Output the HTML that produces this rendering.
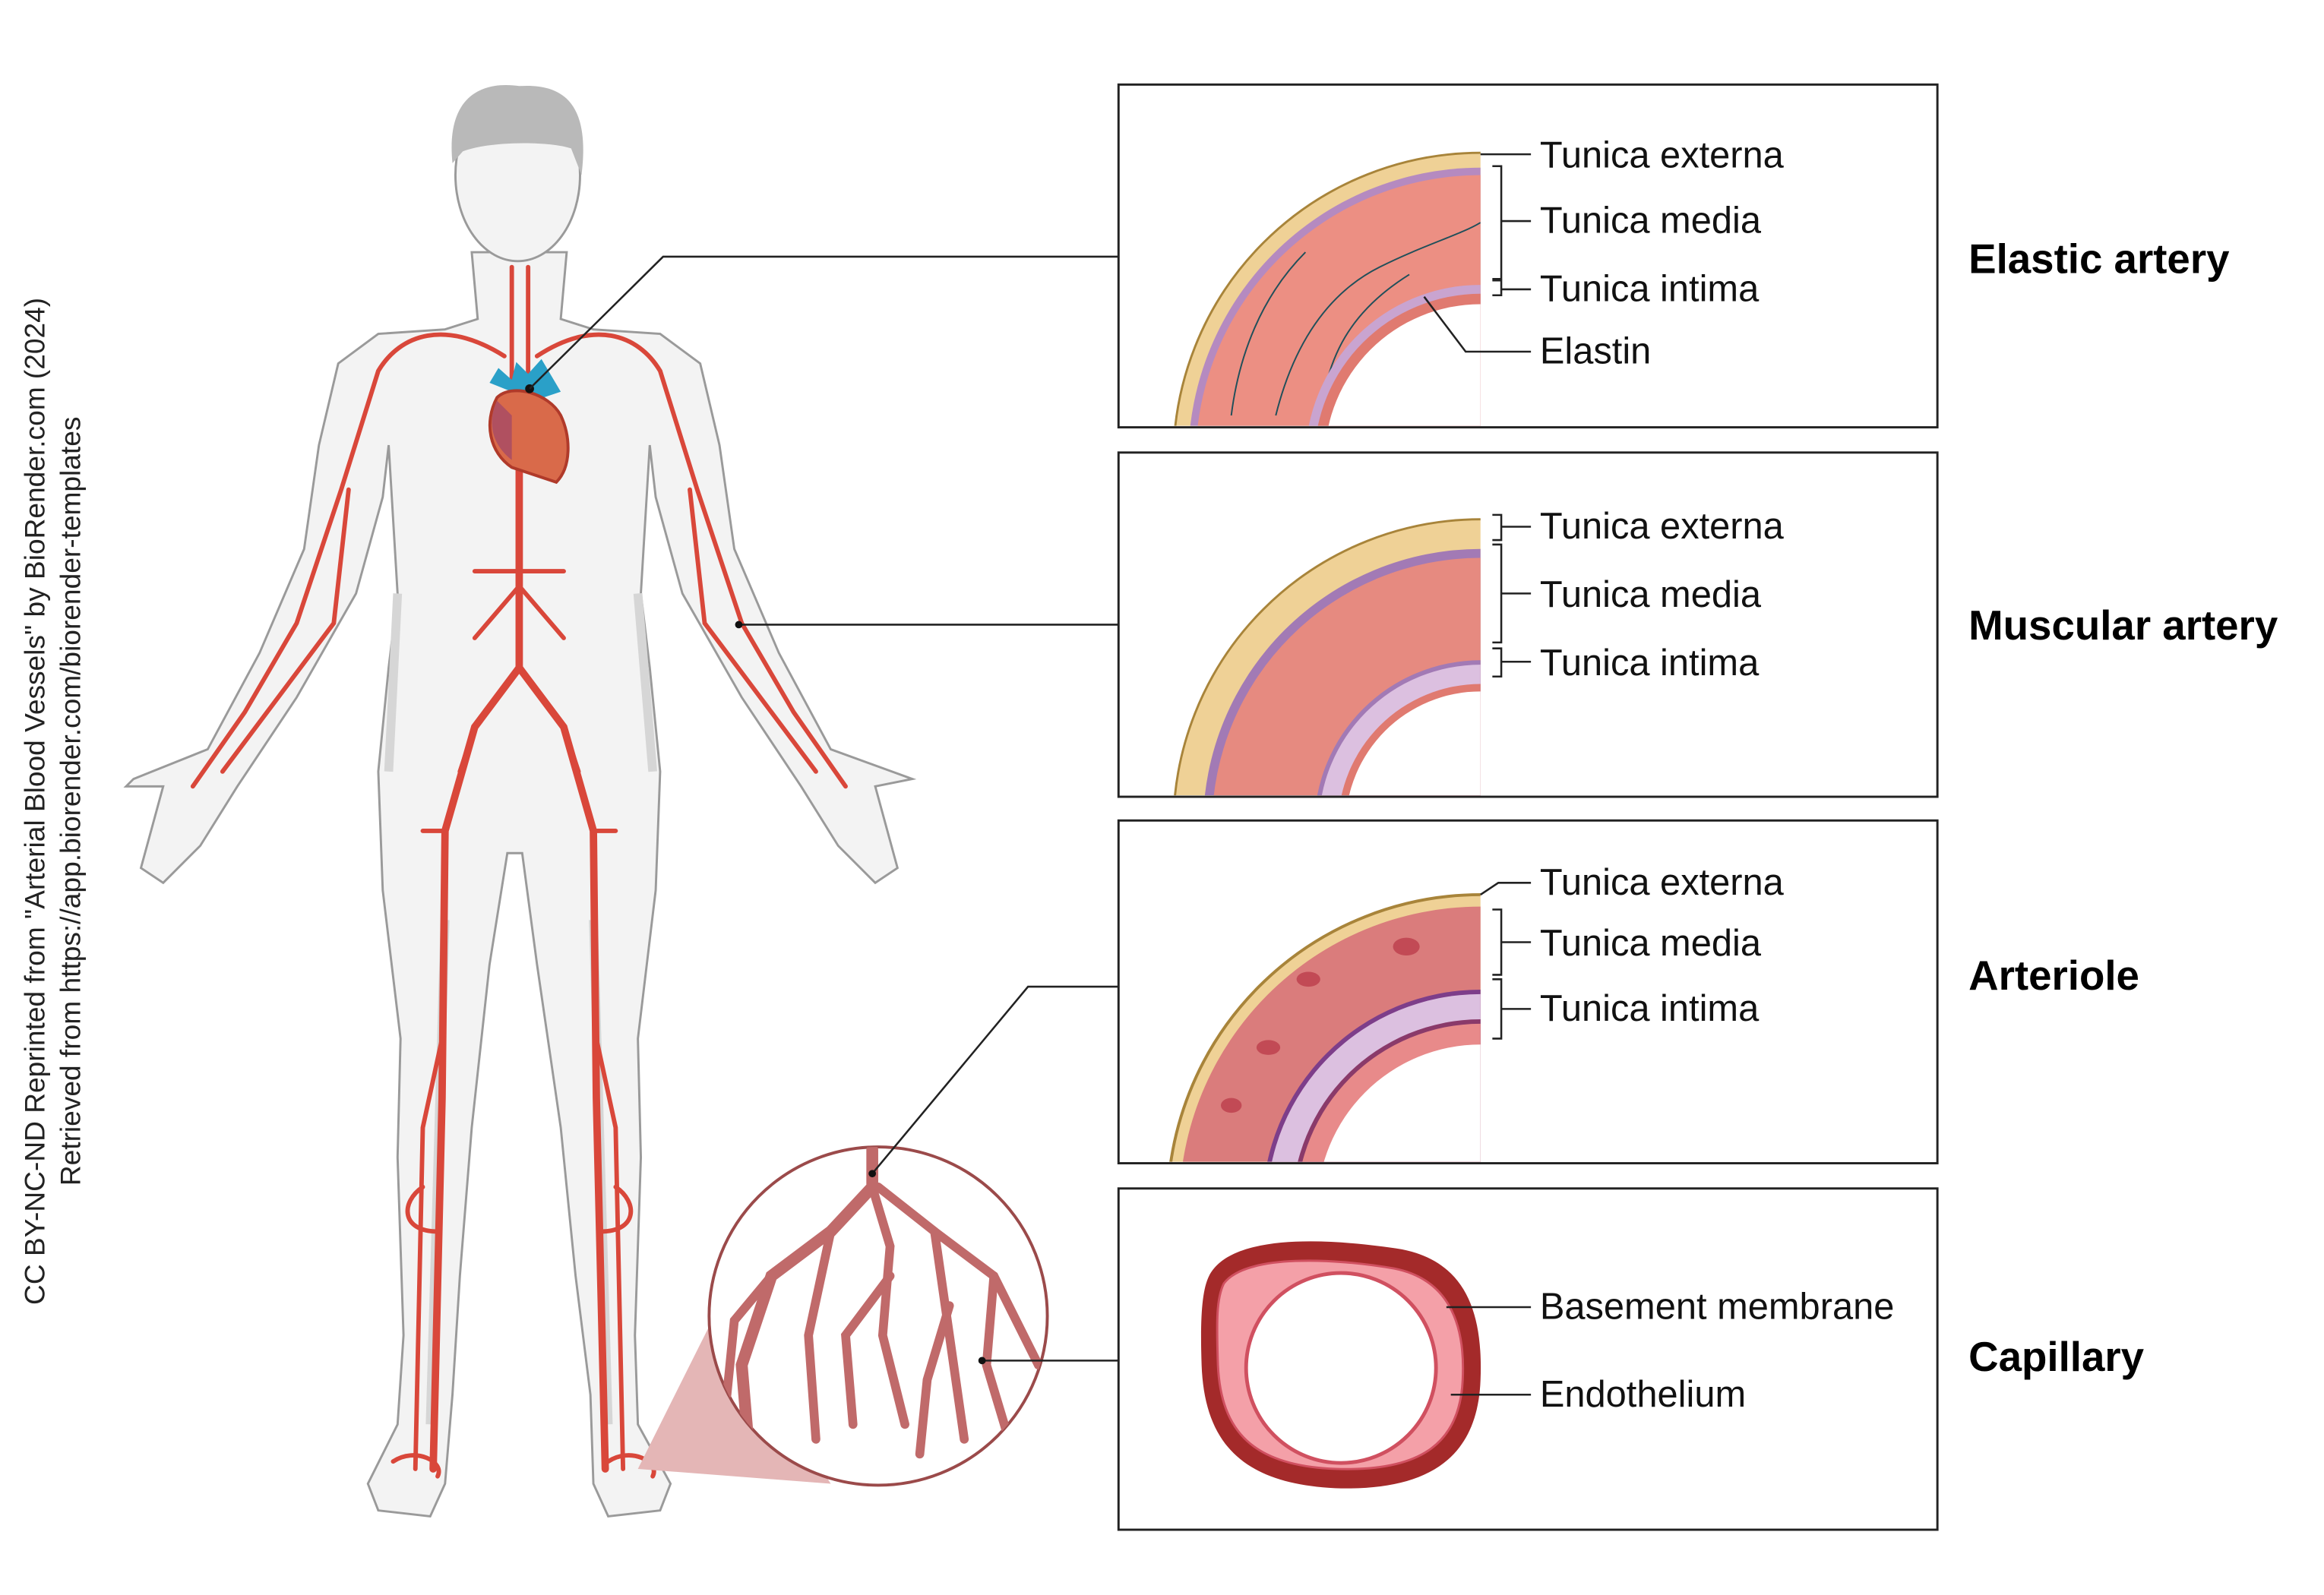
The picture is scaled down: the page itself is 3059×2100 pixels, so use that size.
<!DOCTYPE html>
<html><head><meta charset="utf-8"><style>
html,body{margin:0;padding:0;background:#fff;}
svg{display:block;}
text{font-family:"Liberation Sans",sans-serif;}
</style></head><body>
<svg width="3059" height="2100" viewBox="0 0 1566.6 1075" preserveAspectRatio="none" xmlns="http://www.w3.org/2000/svg">
<defs>
<clipPath id="c1"><rect x="755" y="58" width="243" height="229"/></clipPath>
<clipPath id="c2"><rect x="755" y="306" width="243" height="230"/></clipPath>
<clipPath id="c3"><rect x="755" y="554" width="243" height="229"/></clipPath>
<clipPath id="cm"><circle cx="592" cy="887" r="114"/></clipPath>
</defs>

<g transform="translate(30,540) rotate(-90)">
<text x="0" y="0" font-size="19" text-anchor="middle" fill="#222">CC BY-NC-ND Reprinted from "Arterial Blood Vessels" by BioRender.com (2024)</text>
<text x="0" y="24" font-size="19" text-anchor="middle" fill="#222">Retrieved from https://app.biorender.com/biorender-templates</text>
</g>

<g fill="#f3f3f3" stroke="#9a9a9a" stroke-width="1.5">
<path d="M318,170 L322,215 L300,222 L255,225 L228,245 L215,300 L205,370 L175,440 L140,505 L90,525 L85,530 L110,530 L95,585 L110,595 L135,570 L160,530 L200,470 L240,400 L258,335 L262,300 L268,400 L262,450 L255,520 L258,600 L270,700 L268,780 L272,900 L268,960 L248,1000 L255,1018 L290,1022 L300,1000 L305,940 L310,860 L318,760 L330,650 L342,575 L352,575 L362,650 L378,760 L388,860 L398,940 L400,1000 L410,1022 L445,1018 L452,1000 L430,960 L428,900 L432,780 L430,700 L442,600 L445,520 L438,450 L432,400 L438,300 L442,335 L460,400 L500,470 L540,530 L565,570 L590,595 L605,585 L590,530 L615,525 L560,505 L525,440 L495,370 L485,300 L472,245 L445,225 L400,222 L378,215 L382,170 Z"/>
<ellipse cx="349" cy="118" rx="42" ry="58"/>
</g>
<path d="M305,110 C300,60 330,55 350,58 C380,56 398,70 392,118 L385,100 C370,95 330,95 312,102 Z" fill="#b9b9b9"/>
<g stroke="#d6d6d6" stroke-width="6" fill="none">
<path d="M268,400 L262,520"/><path d="M430,400 L440,520"/><path d="M300,620 L290,960"/><path d="M400,620 L410,960"/>
</g>

<g stroke="#d9473a" fill="none" stroke-width="3" stroke-linecap="round">
<path d="M350,290 L350,450 L320,490 L300,560 L298,740 L292,990" stroke-width="5"/>
<path d="M350,450 L380,490 L400,560 L402,740 L408,990" stroke-width="5"/>
<path d="M345,180 L345,260"/><path d="M356,180 L356,260"/>
<path d="M340,240 C300,215 270,225 255,250 L230,330 L200,420 L165,480 L130,530"/>
<path d="M362,240 C400,215 430,225 445,250 L470,330 L500,420 L535,480 L570,530"/>
<path d="M235,330 L225,420 L150,520"/><path d="M465,330 L475,420 L550,520"/>
<path d="M320,385 L380,385"/><path d="M350,395 L320,430"/><path d="M350,395 L380,430"/>
<path d="M300,560 L285,560"/><path d="M400,560 L415,560"/>
<path d="M298,700 L285,760 L280,990"/><path d="M402,700 L415,760 L420,990"/>
<path d="M320,490 L310,520"/><path d="M380,490 L390,520"/>
<path d="M285,800 C270,810 270,830 295,830"/><path d="M415,800 C430,810 430,830 405,830"/>
<path d="M265,985 C280,975 300,985 295,995"/><path d="M410,985 C425,975 445,985 440,995"/>
</g>

<g>
<path d="M330,258 L336,248 L345,256 L348,244 L356,252 L365,242 L378,264 L360,270 Z" fill="#2aa0c8"/>
<path d="M335,268 C326,285 330,305 345,315 L375,325 C385,315 385,295 378,280 C370,265 345,258 335,268 Z" fill="#d96a4a" stroke="#b03a2a" stroke-width="2"/>
<path d="M335,270 C328,285 332,300 345,310 L345,280 Z" fill="#b05060"/>
<circle cx="357" cy="262" r="3" fill="#111"/>
</g>

<path d="M430,990 L485,880 L560,1000 Z" fill="#e4b6b6"/>
<circle cx="592" cy="887" r="114" fill="#fff" stroke="#9b4a4a" stroke-width="2"/>
<g clip-path="url(#cm)" stroke="#c06a6a" fill="none" stroke-width="6" stroke-linecap="round">
<path d="M588,775 L588,800 L560,830 L520,860 L500,920 L505,980" stroke-width="8"/>
<path d="M588,800 L600,840 L595,900 L610,960"/>
<path d="M592,800 L630,830 L670,860 L700,920"/>
<path d="M560,830 L545,900 L550,970"/>
<path d="M630,830 L640,900 L650,970"/>
<path d="M520,860 L495,890 L490,940"/>
<path d="M600,860 L570,900 L575,960"/>
<path d="M670,860 L665,920 L680,970"/>
<path d="M640,880 L625,930 L620,980"/>
</g>

<g stroke="#222" stroke-width="1.3" fill="none">
<path d="M357,262 L447,173 L754,173"/>
<path d="M498,421 L754,421"/>
<path d="M588,791 L693,665 L754,665"/>
<path d="M662,917 L754,917"/>
</g>
<g fill="#111"><circle cx="498" cy="421" r="2.5"/><circle cx="588" cy="791" r="2.5"/><circle cx="662" cy="917" r="2.5"/></g>

<g fill="none" stroke="#222" stroke-width="1.5">
<rect x="754" y="57" width="552" height="231"/>
<rect x="754" y="305" width="552" height="232"/>
<rect x="754" y="553" width="552" height="231"/>
<rect x="754" y="801" width="552" height="230"/>
</g>

<g clip-path="url(#c1)">
<circle cx="998" cy="310" r="207" fill="#efd196" stroke="#a8843a" stroke-width="1.5"/>
<circle cx="998" cy="310" r="197" fill="#b58ac0"/>
<circle cx="998" cy="310" r="192" fill="#ec8f83"/>
<g stroke="#1f4f5a" stroke-width="1" fill="none">
<path d="M860,280 C870,240 890,200 930,180 C960,165 985,158 998,150"/>
<path d="M890,280 C895,240 910,210 950,185"/>
<path d="M830,280 C835,240 850,200 880,170"/>
</g>
<circle cx="998" cy="310" r="118" fill="#c9a4d0"/>
<circle cx="998" cy="310" r="112" fill="#e07a70"/>
<circle cx="998" cy="310" r="105" fill="#fff"/>
</g>
<g clip-path="url(#c2)">
<circle cx="998" cy="557" r="207" fill="#efd196" stroke="#a8843a" stroke-width="1.5"/>
<circle cx="998" cy="557" r="187" fill="#a27ab5"/>
<circle cx="998" cy="557" r="181" fill="#e68a80"/>
<circle cx="998" cy="557" r="112" fill="#a27ab5"/>
<circle cx="998" cy="557" r="109" fill="#dcc0e0"/>
<circle cx="998" cy="557" r="96" fill="#e07a70"/>
<circle cx="998" cy="557" r="91" fill="#fff"/>
</g>
<g clip-path="url(#c3)">
<circle cx="998" cy="814" r="211" fill="#efd196" stroke="#a8843a" stroke-width="2"/>
<circle cx="998" cy="814" r="203" fill="#da7c7c"/>
<circle cx="998" cy="814" r="147" fill="#7d3e8a"/>
<circle cx="998" cy="814" r="144" fill="#dcc0e0"/>
<circle cx="998" cy="814" r="127" fill="#8a3a6a"/>
<circle cx="998" cy="814" r="124" fill="#e88a8a"/>
<circle cx="998" cy="814" r="110" fill="#fff"/>
<g fill="#c24a55"><ellipse cx="948" cy="638" rx="9" ry="6"/><ellipse cx="882" cy="660" rx="8" ry="5"/><ellipse cx="855" cy="706" rx="8" ry="5"/><ellipse cx="830" cy="745" rx="7" ry="5"/></g>
</g>
<path d="M815,860 C830,830 900,835 945,842 C985,850 1000,880 998,930 C996,985 960,1005 900,1003 C840,1000 812,975 810,920 C809,890 810,870 815,860 Z" fill="#a42a2a"/>
<path d="M825,865 C840,845 900,848 940,855 C975,862 988,890 986,930 C984,975 955,992 900,990 C845,988 823,965 821,920 C820,890 820,875 825,865 Z" fill="#f4a0a8" stroke="#d05060" stroke-width="1.5"/>
<circle cx="904" cy="922" r="64" fill="#fff" stroke="#d05060" stroke-width="2.5"/>

<g stroke="#222" stroke-width="1.3" fill="none">
<path d="M998,104 L1032,104"/>
<path d="M1006,112 L1012,112 L1012,188 L1006,188"/><path d="M1012,149 L1032,149"/>
<path d="M1006,189 L1012,189 L1012,199 L1006,199"/><path d="M1012,195 L1032,195"/>
<path d="M960,200 L988,237 L1032,237"/>
<path d="M1006,347 L1012,347 L1012,364 L1006,364"/><path d="M1012,355 L1032,355"/>
<path d="M1006,367 L1012,367 L1012,433 L1006,433"/><path d="M1012,400 L1032,400"/>
<path d="M1006,437 L1012,437 L1012,456 L1006,456"/><path d="M1012,446 L1032,446"/>
<path d="M998,603 L1010,595 L1032,595"/>
<path d="M1006,613 L1012,613 L1012,657 L1006,657"/><path d="M1012,635 L1032,635"/>
<path d="M1006,660 L1012,660 L1012,700 L1006,700"/><path d="M1012,680 L1032,680"/>
<path d="M975,881 L1032,881"/>
<path d="M978,940 L1032,940"/>
</g>

<g font-size="25" fill="#111">
<text x="1038" y="113">Tunica externa</text>
<text x="1038" y="157">Tunica media</text>
<text x="1038" y="203">Tunica intima</text>
<text x="1038" y="245">Elastin</text>
<text x="1038" y="363">Tunica externa</text>
<text x="1038" y="409">Tunica media</text>
<text x="1038" y="455">Tunica intima</text>
<text x="1038" y="603">Tunica externa</text>
<text x="1038" y="644">Tunica media</text>
<text x="1038" y="688">Tunica intima</text>
<text x="1038" y="889">Basement membrane</text>
<text x="1038" y="948">Endothelium</text>
</g>
<g font-size="28" font-weight="bold" fill="#000">
<text x="1327" y="184">Elastic artery</text>
<text x="1327" y="431">Muscular artery</text>
<text x="1327" y="667">Arteriole</text>
<text x="1327" y="924">Capillary</text>
</g>
</svg>
</body></html>
